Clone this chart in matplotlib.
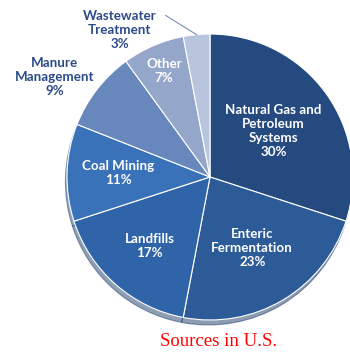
import numpy as np
import matplotlib.pyplot as plt

labels = ["Natural Gas and\nPetroleum\nSystems", "Enteric\nFermentation", "Landfills",
          "Coal Mining", "Manure\nManagement", "Other", "Wastewater\nTreatment"]
shares = [30, 23, 17, 11, 9, 7, 3]
colors = ["#254a80", "#2c5b98", "#3064a8", "#3a72ba", "#6787bd", "#94a6ca", "#b8c5dd"]
# where each label sits: fraction of the radius and turn (deg) off the slice middle
label_r = [0.55, 0.58, 0.64, 0.64, 1.29, 0.81, 1.20]
label_turn = [0, 0, 0, -1, 5, 0, 0]
inside = [True, True, True, True, False, True, False]

plt.rcParams["font.family"] = ["Lato", "DejaVu Sans"]

fig = plt.figure(figsize=(3.5, 3.55), dpi=100)
ax = fig.add_axes([0, 0, 1, 1])

wedges, _ = ax.pie(shares, colors=colors, startangle=90, counterclock=False,
                   wedgeprops=dict(edgecolor="white", linewidth=0.8),
                   shadow=dict(ox=-0.008, oy=-0.025, shade=0.35))

for i, w in enumerate(wedges):
    mid = np.deg2rad((w.theta1 + w.theta2) / 2 + label_turn[i])
    x, y = label_r[i] * np.cos(mid), label_r[i] * np.sin(mid)
    if i == 6:
        # wastewater label sits up and to the left, with a leader line
        x, y = -0.63, 1.03
    col = "white" if inside[i] else "#2b4a8a"
    ax.text(x, y, f"{labels[i]}\n{shares[i]}%", ha="center", va="center",
            color=col, fontsize=9.6, fontweight="bold", linespacing=1.2)

# leader line for the small slice
w = wedges[6]
mid = np.deg2rad((w.theta1 + w.theta2) / 2)
ax.plot([-0.31, np.cos(mid)], [1.13, np.sin(mid)], color="#7d90b8", lw=0.8)

ax.text(0.06, -1.15, "Sources in U.S.", ha="center", va="center",
        color="red", fontsize=13.5, family="Liberation Serif")

ax.set_xlim(-1.4685, 0.979)
ax.set_ylim(-1.2448, 1.2378)
ax.set_aspect("auto")
ax.axis("off")

plt.savefig("out.png", dpi=100)
